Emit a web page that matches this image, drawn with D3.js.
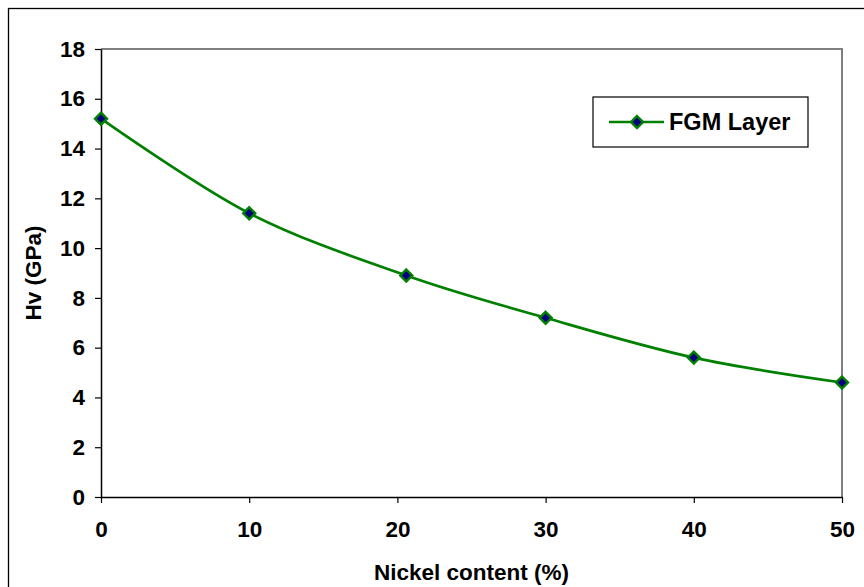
<!DOCTYPE html>
<html>
<head>
<meta charset="utf-8">
<script src="https://cdn.jsdelivr.net/npm/d3@7"></script>
<style>
  body { margin: 0; background: #fff; }
  text { font-family: "Liberation Sans", Arial, sans-serif; font-weight: bold; fill: #000; }
</style>
</head>
<body>
<svg width="864" height="587"></svg>
<script>
// data
var nickel = [0, 10, 20.6, 30, 40, 50];
var hv = [15.2, 11.4, 8.9, 7.2, 5.6, 4.6];
var xTicks = [0, 10, 20, 30, 40, 50];
var yTicks = [0, 2, 4, 6, 8, 10, 12, 14, 16, 18];
var seriesName = "FGM Layer";

var svg = d3.select("svg"),
    pLeft = 101, pRight = 842, pTop = 49, pBottom = 497,
    fs = 22.5;

// outer chart frame (cut off at right and bottom)
svg.append("rect")
   .attr("x", 8.5).attr("y", 8.5)
   .attr("width", 900).attr("height", 600)
   .attr("fill", "none").attr("stroke", "#000").attr("stroke-width", 1.3);

var x = d3.scaleLinear().domain([0, 50]).range([pLeft, pRight]);
var y = d3.scaleLinear().domain([0, 18]).range([pBottom, pTop]);

// plot area border (gray top/right)
svg.append("path")
   .attr("d", "M" + pLeft + "," + pTop + "H" + pRight + "V" + pBottom)
   .attr("fill", "none").attr("stroke", "#808080").attr("stroke-width", 2);

var yAxis = svg.append("g")
   .attr("transform", "translate(" + pLeft + ",0)")
   .call(d3.axisLeft(y).tickValues(yTicks).tickSize(6).tickPadding(10).tickSizeOuter(0));
var xAxis = svg.append("g")
   .attr("transform", "translate(0," + pBottom + ")")
   .call(d3.axisBottom(x).tickValues(xTicks).tickSize(6).tickPadding(18).tickSizeOuter(0));

[xAxis, yAxis].forEach(function(a){
  a.select(".domain").attr("stroke", "#000").attr("stroke-width", 1.5);
  a.selectAll(".tick line").attr("stroke", "#000").attr("stroke-width", 1.2);
  a.selectAll(".tick text").attr("font-size", fs)
   .attr("font-family", "Liberation Sans, Arial, sans-serif").attr("font-weight", "bold");
});

// axis titles
svg.append("text")
   .attr("x", (pLeft + pRight) / 2).attr("y", 580)
   .attr("text-anchor", "middle").attr("font-size", fs)
   .text("Nickel content (%)");
svg.append("text")
   .attr("transform", "translate(41," + (pTop + pBottom) / 2 + ") rotate(-90)")
   .attr("text-anchor", "middle").attr("font-size", fs)
   .text("Hv (GPa)");

// smoothed line
var pts = nickel.map(function(d, i){ return [d, hv[i]]; });
var line = d3.line()
   .x(function(d){ return x(d[0]); })
   .y(function(d){ return y(d[1]); })
   .curve(d3.curveCardinal.tension(0));
svg.append("path")
   .datum(pts)
   .attr("d", line)
   .attr("fill", "none").attr("stroke", "#008000").attr("stroke-width", 2.7);

var diamond = "M0,-6L6,0L0,6L-6,0Z";
svg.selectAll(".pt")
   .data(pts).enter().append("path")
   .attr("class", "pt")
   .attr("d", diamond)
   .attr("transform", function(d){ return "translate(" + x(d[0]) + "," + y(d[1]) + ")"; })
   .attr("fill", "#000080").attr("stroke", "#008000").attr("stroke-width", 2.4);

// legend
var lg = svg.append("g");
lg.append("rect")
  .attr("x", 593).attr("y", 97).attr("width", 215).attr("height", 50)
  .attr("fill", "#fff").attr("stroke", "#000").attr("stroke-width", 1.2);
lg.append("line")
  .attr("x1", 609).attr("x2", 664).attr("y1", 122).attr("y2", 122)
  .attr("stroke", "#008000").attr("stroke-width", 2.7);
lg.append("path")
  .attr("d", diamond)
  .attr("transform", "translate(637,122)")
  .attr("fill", "#000080").attr("stroke", "#008000").attr("stroke-width", 2.4);
lg.append("text")
  .attr("x", 669).attr("y", 130).attr("font-size", 23.5)
  .text(seriesName);
</script>
</body>
</html>
